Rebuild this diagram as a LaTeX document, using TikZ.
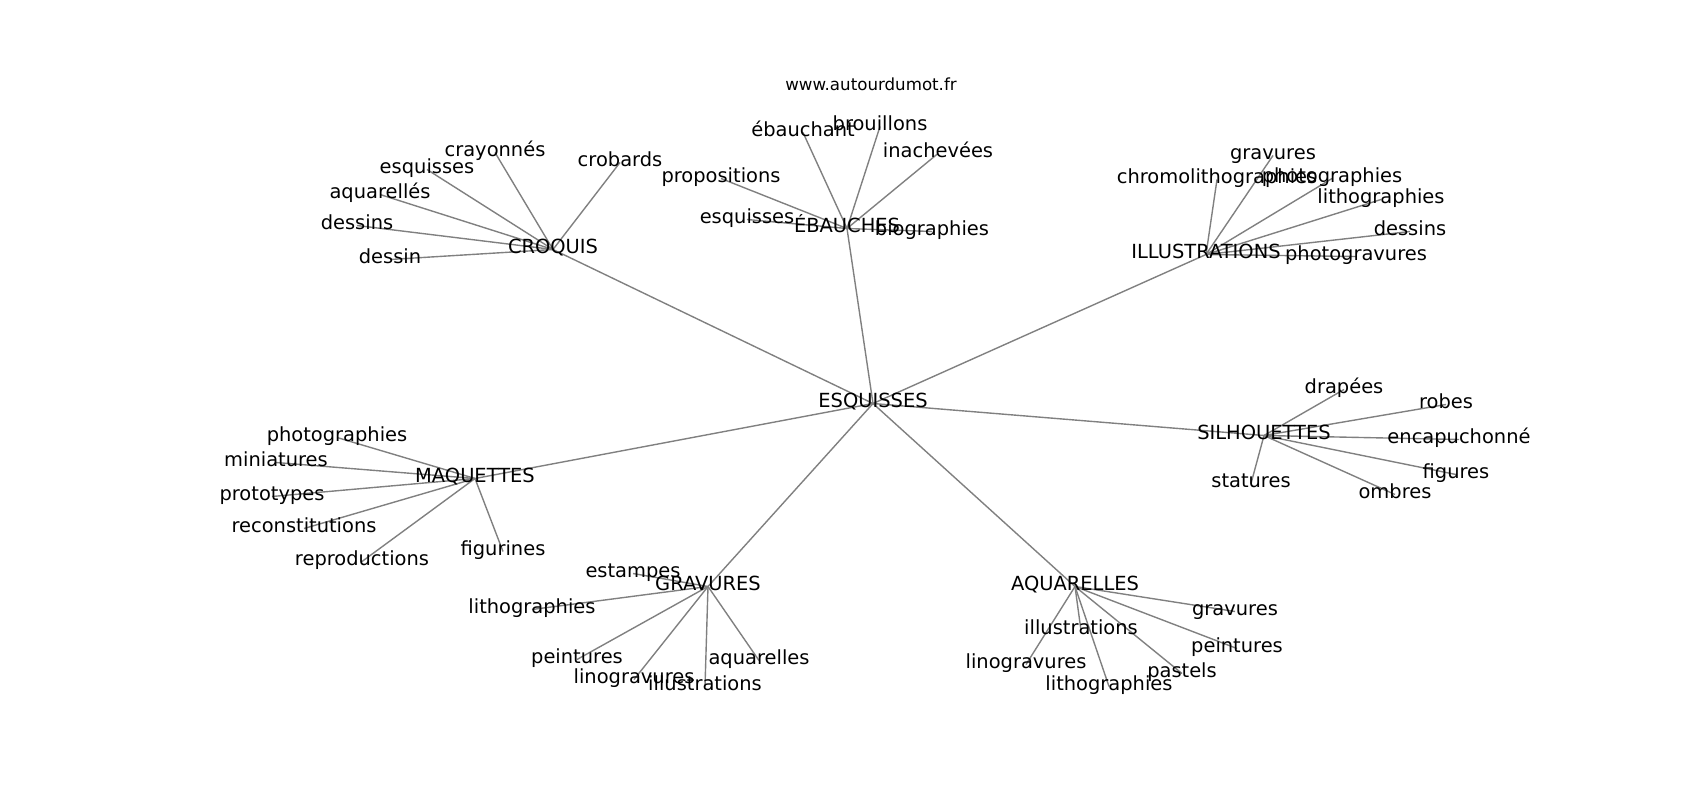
\documentclass[tikz,border=0pt]{standalone}
\usepackage{fontspec}
\setmainfont{DejaVu Sans}
\pgfdeclarelayer{background}
\pgfsetlayers{background,main}
\tikzset{
  lbl/.style={inner sep=0pt, outer sep=0pt, text height=0.76em, text depth=0.236em, font=\fontsize{14}{16}\selectfont, text=black},
  ttl/.style={inner sep=0pt, outer sep=0pt, text height=0.76em, text depth=0.236em, font=\fontsize{12}{14}\selectfont, text=black},
  edge/.style={draw=black!50, line width=1pt}
}
\begin{document}
\begin{tikzpicture}[x=0.72pt,y=-0.72pt]
\useasboundingbox (0,-2.5) rectangle (1700,797.5);
\node[ttl] (title) at (871,84) {www.autourdumot.fr};
% center
\node[lbl] (esq) at (873,401) {ESQUISSES};
% hubs
\node[lbl] (croq) at (553,247) {CROQUIS};
\node[lbl] (ebau) at (847,226) {ÉBAUCHES};
\node[lbl] (illu) at (1206,252) {ILLUSTRATIONS};
\node[lbl] (silh) at (1264,433) {SILHOUETTES};
\node[lbl] (maq) at (475,476) {MAQUETTES};
\node[lbl] (grav) at (708,584) {GRAVURES};
\node[lbl] (aqua) at (1075,584) {AQUARELLES};
% croquis leaves
\node[lbl] (c1) at (495,150) {crayonnés};
\node[lbl] (c2) at (620,160) {crobards};
\node[lbl] (c3) at (427,167) {esquisses};
\node[lbl] (c4) at (380,192) {aquarellés};
\node[lbl] (c5) at (357,223) {dessins};
\node[lbl] (c6) at (390,257) {dessin};
% ebauches leaves
\node[lbl] (e1) at (803,130) {ébauchant};
\node[lbl] (e2) at (880,124) {brouillons};
\node[lbl] (e3) at (938,151) {inachevées};
\node[lbl] (e4) at (721,176) {propositions};
\node[lbl] (e5) at (747,217) {esquisses};
\node[lbl] (e6) at (932,229) {biographies};
% illustrations leaves
\node[lbl] (i1) at (1273,153) {gravures};
\node[lbl] (i2) at (1217,177) {chromolithographies};
\node[lbl] (i3) at (1332,176) {photographies};
\node[lbl] (i4) at (1381,197) {lithographies};
\node[lbl] (i5) at (1410,229) {dessins};
\node[lbl] (i6) at (1356,254) {photogravures};
% silhouettes leaves
\node[lbl] (s1) at (1344,387) {drapées};
\node[lbl] (s2) at (1446,402) {robes};
\node[lbl] (s3) at (1459,437) {encapuchonné};
\node[lbl] (s4) at (1456,472) {figures};
\node[lbl] (s5) at (1251,481) {statures};
\node[lbl] (s6) at (1395,492) {ombres};
% maquettes leaves
\node[lbl] (m1) at (337,435) {photographies};
\node[lbl] (m2) at (276,460) {miniatures};
\node[lbl] (m3) at (272,494) {prototypes};
\node[lbl] (m4) at (304,526) {reconstitutions};
\node[lbl] (m5) at (362,559) {reproductions};
\node[lbl] (m6) at (503,549) {figurines};
% gravures leaves
\node[lbl] (g1) at (633,571) {estampes};
\node[lbl] (g2) at (532,607) {lithographies};
\node[lbl] (g3) at (577,657) {peintures};
\node[lbl] (g4) at (759,658) {aquarelles};
\node[lbl] (g5) at (634,677) {linogravures};
\node[lbl] (g6) at (705,684) {illustrations};
% aquarelles leaves
\node[lbl] (a1) at (1235,609) {gravures};
\node[lbl] (a2) at (1081,628) {illustrations};
\node[lbl] (a3) at (1237,646) {peintures};
\node[lbl] (a4) at (1026,662) {linogravures};
\node[lbl] (a5) at (1182,671) {pastels};
\node[lbl] (a6) at (1109,684) {lithographies};
\begin{pgfonlayer}{background}
\fill[white] (0,-2.5) rectangle (1700,797.5);
\foreach \h in {croq,ebau,illu,silh,maq,grav,aqua}
  \draw[edge] (esq.center) -- (\h.center);
\foreach \l in {c1,c2,c3,c4,c5,c6} \draw[edge] (croq.center) -- (\l.center);
\foreach \l in {e1,e2,e3,e4,e5,e6} \draw[edge] (ebau.center) -- (\l.center);
\foreach \l in {i1,i2,i3,i4,i5,i6} \draw[edge] (illu.center) -- (\l.center);
\foreach \l in {s1,s2,s3,s4,s5,s6} \draw[edge] (silh.center) -- (\l.center);
\foreach \l in {m1,m2,m3,m4,m5,m6} \draw[edge] (maq.center) -- (\l.center);
\foreach \l in {g1,g2,g3,g4,g5,g6} \draw[edge] (grav.center) -- (\l.center);
\foreach \l in {a1,a2,a3,a4,a5,a6} \draw[edge] (aqua.center) -- (\l.center);
\end{pgfonlayer}
\end{tikzpicture}
\end{document}
